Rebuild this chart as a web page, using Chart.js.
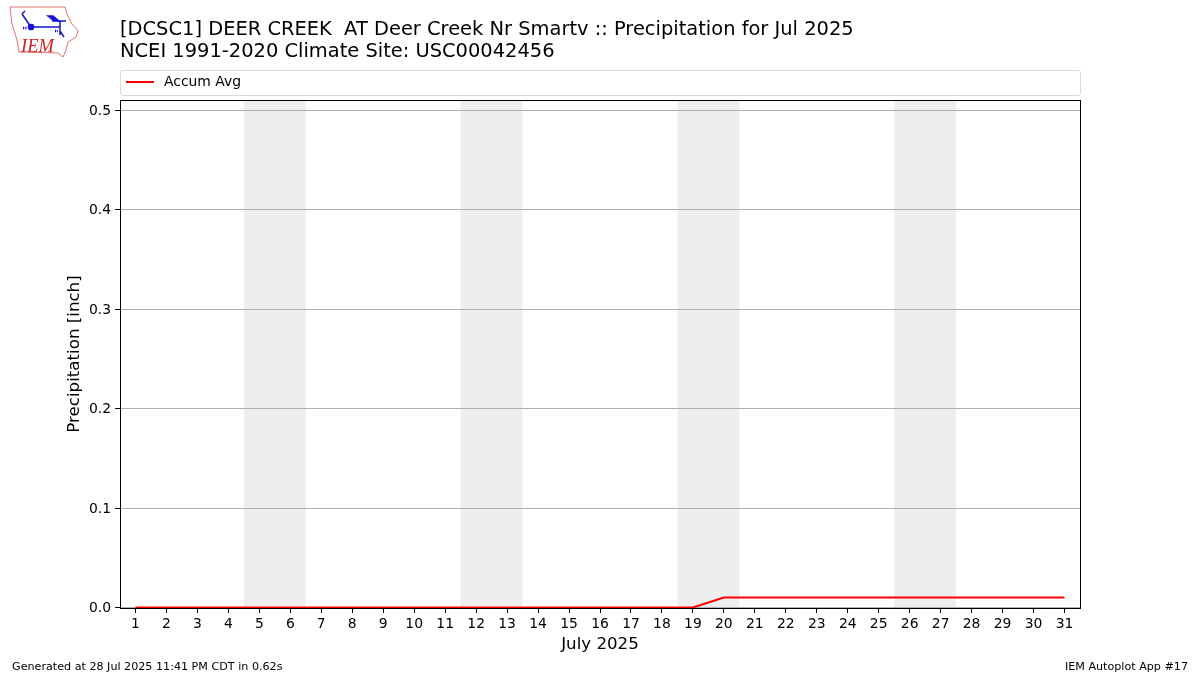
<!DOCTYPE html>
<html>
<head>
<meta charset="utf-8">
<title>IEM Autoplot</title>
<script src="https://cdn.jsdelivr.net/npm/chart.js@4"></script>
<style>
  html, body { margin: 0; padding: 0; background: #fff; }
  #page { position: relative; width: 1200px; height: 675px; overflow: hidden; font-family: "DejaVu Sans", sans-serif; color: #000; }
  #page canvas { position: absolute; left: 0; top: 0; }
  .txt { position: absolute; white-space: pre; line-height: 1; }
  #logo { position: absolute; left: 0; top: 0; }
  #legend { position: absolute; left: 120px; top: 70px; width: 959px; height: 24px; border: 1px solid #d9d9d9; border-radius: 3px; }
  #legend i { position: absolute; left: 5px; top: 10px; width: 28px; height: 2px; background: #ff0000; }
  #legend span { position: absolute; left: 43px; top: 4px; font-size: 13.9px; line-height: 1; white-space: pre; }
</style>
</head>
<body>
<div id="page">
  <canvas id="chart" width="1200" height="675"></canvas>
  <svg id="logo" width="90" height="62" viewBox="0 0 90 62">
    <path d="M10 7 L65 7 L67 14 L72 24 L78 31 L76 37 L68 42 L66 50 L63 57 L58 53 L19 52 L17 40 L12 24 Z" fill="none" stroke="#e07070" stroke-width="1"/>
    <g stroke="#1414d2" fill="none" stroke-width="1.5">
      <path d="M31 27 L60 27 M31 27 L22 14 M22 14 L25 11 M60 21 L60 35 M52 21 L66 21 M60 31 L64 37"/>
      <path d="M48 16 L53 16 L59 21 L53 20 Z" fill="#1414d2"/>
      <circle cx="31" cy="27" r="2.6" fill="#1414d2"/>
      <path d="M23 28 L27 28 M55 31 L58 31" stroke-width="2.4" stroke-dasharray="1.2 1"/>
    </g>
    <text x="21" y="52" font-family="Liberation Serif" font-style="italic" font-size="18.5" fill="#d42020">IEM</text>
  </svg>
  <div class="txt" id="title1" style="left:120px;top:19px;font-size:19.45px"></div>
  <div class="txt" id="title2" style="left:120px;top:41px;font-size:19.45px"></div>
  <div id="legend"><i></i><span id="legendText"></span></div>
  <div class="txt" id="footL" style="left:12px;top:661px;font-size:11.15px"></div>
  <div class="txt" id="footR" style="right:12px;top:661px;font-size:11.15px"></div>
</div>
<script>
const days = [1,2,3,4,5,6,7,8,9,10,11,12,13,14,15,16,17,18,19,20,21,22,23,24,25,26,27,28,29,30,31];
const accumAvg = [0,0,0,0,0,0,0,0,0,0,0,0,0,0,0,0,0,0,0,0.01,0.01,0.01,0.01,0.01,0.01,0.01,0.01,0.01,0.01,0.01,0.01];
const yTicks = [0,0.1,0.2,0.3,0.4,0.5];
const weekends = [[4.5,6.5],[11.5,13.5],[18.5,20.5],[25.5,27.5]];
const seriesName = "Accum Avg";
const titleLines = ["[DCSC1] DEER CREEK  AT Deer Creek Nr Smartv :: Precipitation for Jul 2025", "NCEI 1991-2020 Climate Site: USC00042456"];
const xLabel = "July 2025";
const yLabel = "Precipitation [inch]";
const footerLeft = "Generated at 28 Jul 2025 11:41 PM CDT in 0.62s";
const footerRight = "IEM Autoplot App #17";

document.getElementById("title1").textContent = titleLines[0];
document.getElementById("title2").textContent = titleLines[1];
document.getElementById("legendText").textContent = seriesName;
document.getElementById("footL").textContent = footerLeft;
document.getElementById("footR").textContent = footerRight;

// grey weekend bands go under the grid, frame goes on top of the line
const bandsPlugin = {
  id: "bands",
  beforeDraw(chart) {
    const { ctx, chartArea: a, scales } = chart;
    ctx.save();
    ctx.fillStyle = "#ffffff";
    ctx.fillRect(0, 0, chart.width, chart.height);
    ctx.fillStyle = "#eeeeee";
    weekends.forEach(w => {
      const x0 = scales.x.getPixelForValue(w[0]);
      const x1 = scales.x.getPixelForValue(w[1]);
      ctx.fillRect(x0, a.top, x1 - x0, a.bottom - a.top);
    });
    ctx.restore();
  },
  afterDraw(chart) {
    const { ctx, chartArea: a } = chart;
    ctx.save();
    ctx.strokeStyle = "#000000";
    ctx.lineWidth = 1;
    ctx.strokeRect(a.left + 0.5, a.top + 0.5, a.right - a.left, a.bottom - a.top);
    ctx.restore();
  }
};

const tickFont = { family: "DejaVu Sans", size: 13.9 };
const labelFont = { family: "DejaVu Sans", size: 16.67 };

new Chart(document.getElementById("chart"), {
  type: "line",
  data: {
    labels: days,
    datasets: [{
      label: seriesName,
      data: days.map((d, i) => ({ x: d, y: accumAvg[i] })),
      borderColor: "#ff0000",
      borderWidth: 2,
      pointRadius: 0,
      tension: 0
    }]
  },
  plugins: [bandsPlugin],
  options: {
    responsive: false,
    animation: false,
    devicePixelRatio: 1,
    layout: { padding: { left: 0, top: 100, right: 120, bottom: 0 } },
    plugins: { legend: { display: false }, title: { display: false }, tooltip: { enabled: false } },
    scales: {
      x: {
        type: "linear",
        min: 0.5,
        max: 31.5,
        afterFit(s) { s.height = 67; },
        afterBuildTicks(s) { s.ticks = days.map(d => ({ value: d })); },
        grid: { drawOnChartArea: false, tickColor: "#000000", tickLength: 5 },
        border: { display: false },
        ticks: { color: "#000000", font: tickFont, maxRotation: 0, autoSkip: false, padding: 3, callback: v => String(v) },
        title: { display: true, text: xLabel, color: "#000000", font: labelFont, padding: { top: 0, bottom: 20 } }
      },
      y: {
        min: -0.0005,
        max: 0.51036,
        afterFit(s) { s.width = 120; },
        afterBuildTicks(s) { s.ticks = yTicks.map(v => ({ value: v })); },
        grid: { color: "#b0b0b0", tickColor: "#000000", tickLength: 5, lineWidth: 1 },
        border: { display: false },
        ticks: { color: "#000000", font: tickFont, padding: 4, labelOffset: 1, callback: v => v.toFixed(1) },
        title: { display: true, text: yLabel, color: "#000000", font: labelFont, padding: { top: 65, bottom: 0 } }
      }
    }
  }
});
</script>
</body>
</html>
